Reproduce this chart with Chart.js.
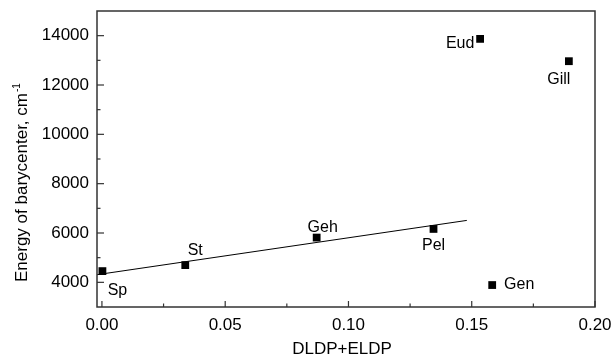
<!DOCTYPE html>
<html><head><meta charset="utf-8">
<script src="https://cdn.jsdelivr.net/npm/chart.js@4/dist/chart.umd.min.js"></script>
<style>html,body{margin:0;padding:0;background:#fff}#wrap{width:615px;height:362px}</style>
</head><body><div id="wrap"><canvas id="c" width="615" height="362"></canvas></div>
<script>
// ---- data ----
const sampleNames = ['Sp', 'St', 'Geh', 'Pel', 'Gen', 'Eud', 'Gill'];
const xValues = [0.0002, 0.0338, 0.0871, 0.1345, 0.1583, 0.1534, 0.1894];
const yValues = [4455, 4698, 5815, 6165, 3890, 13870, 12965];
const fitX = [-0.002, 0.148];
const fitY = [4310, 6510];
const xMajorTicks = [0, 0.05, 0.10, 0.15, 0.20];
const xMinorTicks = [0.025, 0.075, 0.125, 0.175];
const yMajorTicks = [4000, 6000, 8000, 10000, 12000, 14000];
const yMinorTicks = [5000, 7000, 9000, 11000, 13000];
const xTitle = 'DLDP+ELDP';
const yTitle = 'Energy of barycenter, cm';
const yTitleSup = '-1';

// ---- label placement (pixel offsets from each point, text centre) ----
const labelOffsets = [[15, 19], [10, -15], [6, -10], [0, 17], [27, 0], [-20, 5], [-10, 18]];

const FONT = '"Liberation Sans", Arial, Helvetica, sans-serif';

const decor = {
  id: 'decor',
  afterDraw(chart) {
    const {ctx, chartArea: a, scales: {x, y}} = chart;
    ctx.save();
    // frame
    ctx.strokeStyle = '#333';
    ctx.lineWidth = 1.5;
    ctx.strokeRect(a.left, a.top, a.right - a.left, a.bottom - a.top);
    // ticks (inward)
    ctx.lineWidth = 1.2;
    const xt = (v, len) => { const p = x.getPixelForValue(v); ctx.beginPath(); ctx.moveTo(p, a.bottom); ctx.lineTo(p, a.bottom - len); ctx.stroke(); };
    const yt = (v, len) => { const p = y.getPixelForValue(v); ctx.beginPath(); ctx.moveTo(a.left, p); ctx.lineTo(a.left + len, p); ctx.stroke(); };
    xMajorTicks.forEach(v => xt(v, 6));
    xMinorTicks.forEach(v => xt(v, 3.5));
    yMajorTicks.forEach(v => yt(v, 7));
    yMinorTicks.forEach(v => yt(v, 3.5));
    // point labels
    ctx.fillStyle = '#000';
    ctx.font = '16px ' + FONT;
    ctx.textAlign = 'center';
    ctx.textBaseline = 'middle';
    sampleNames.forEach((n, i) => {
      const px = x.getPixelForValue(xValues[i]) + labelOffsets[i][0];
      const py = y.getPixelForValue(yValues[i]) + labelOffsets[i][1];
      ctx.fillText(n, px, py);
    });
    // x title
    ctx.font = '17px ' + FONT;
    ctx.fillText(xTitle, (a.left + a.right) / 2 - 4, 349);
    // y title with superscript
    ctx.save();
    ctx.translate(27, 0);
    ctx.rotate(-Math.PI / 2);
    ctx.textAlign = 'left';
    ctx.textBaseline = 'alphabetic';
    ctx.font = '17px ' + FONT;
    const w = ctx.measureText(yTitle).width;
    const startY = -282;
    ctx.fillText(yTitle, startY, 0);
    ctx.font = '10px ' + FONT;
    ctx.fillText(yTitleSup, startY + w + 1, -7);
    ctx.restore();
    ctx.restore();
  }
};

const zeroPad = s => { s.paddingTop = 0; s.paddingBottom = 0; s.paddingLeft = 0; s.paddingRight = 0; };

new Chart(document.getElementById('c'), {
  type: 'scatter',
  data: {
    datasets: [
      {
        data: fitX.map((v, i) => ({x: v, y: fitY[i]})),
        showLine: true, borderColor: '#000', borderWidth: 1, pointRadius: 0, fill: false
      },
      {
        data: xValues.map((v, i) => ({x: v, y: yValues[i]})),
        showLine: false, pointStyle: 'rect', pointRadius: 5.5,
        backgroundColor: '#000', borderColor: '#000', borderWidth: 0
      }
    ]
  },
  options: {
    responsive: false,
    devicePixelRatio: 1,
    animation: false,
    layout: {padding: {top: 11, right: 20, left: 0, bottom: 0}},
    plugins: {legend: {display: false}, tooltip: {enabled: false}},
    scales: {
      x: {
        type: 'linear', min: -0.002, max: 0.2,
        afterBuildTicks: s => { s.ticks = xMajorTicks.map(v => ({value: v})); },
        afterFit: s => { s.height = 55; zeroPad(s); },
        ticks: {callback: v => Number(v).toFixed(2), font: {size: 17, family: FONT}, color: '#000', padding: 8, maxRotation: 0, autoSkip: false},
        grid: {display: false, drawTicks: false},
        border: {display: false}
      },
      y: {
        type: 'linear', min: 3000, max: 15000,
        afterBuildTicks: s => { s.ticks = yMajorTicks.map(v => ({value: v})); },
        afterFit: s => { s.width = 97; zeroPad(s); },
        ticks: {callback: v => String(v), font: {size: 17, family: FONT}, color: '#000', padding: 8, autoSkip: false},
        grid: {display: false, drawTicks: false},
        border: {display: false}
      }
    }
  },
  plugins: [decor]
});
</script></body></html>
